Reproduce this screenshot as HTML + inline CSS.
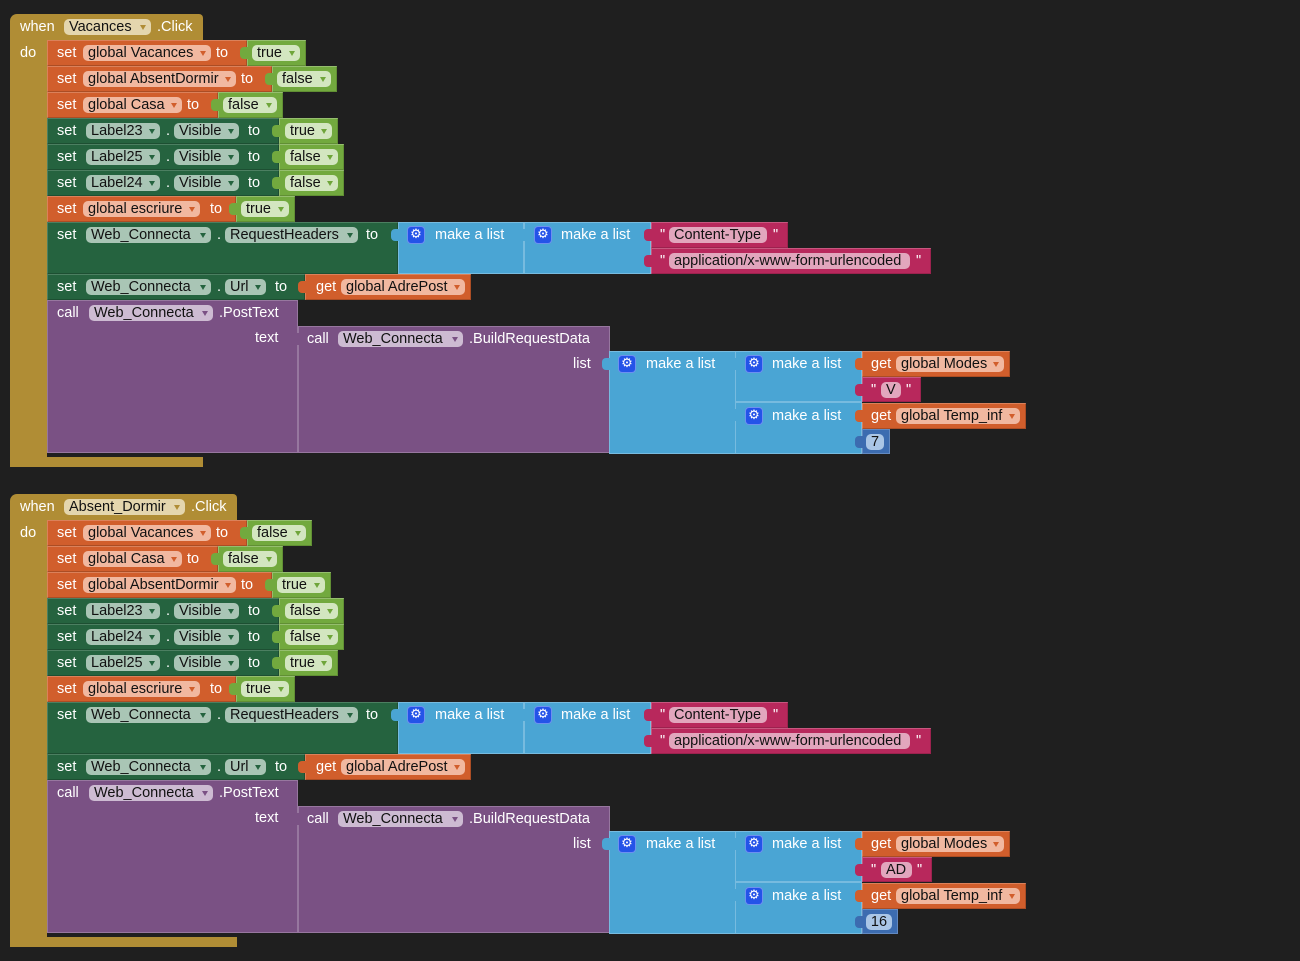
<!DOCTYPE html>
<html><head><meta charset="utf-8">
<style>
html,body{margin:0;padding:0;background:#1f1f1f;}
body{width:1300px;height:961px;position:relative;overflow:hidden;font-family:"Liberation Sans",Arial,sans-serif;font-size:14.5px;}
.grp{position:absolute;left:0;width:1300px;height:480px;}
.x{position:absolute;box-sizing:border-box;}
.g{background:#b08d35;}
.o{background:#d15e2c;box-shadow:inset 1px 1px 0 rgba(255,255,255,.22),inset -1px -1px 0 rgba(0,0,0,.18);}
.d{background:#25633f;box-shadow:inset 1px 1px 0 rgba(255,255,255,.18),inset -1px -1px 0 rgba(0,0,0,.2);}
.l{background:#72a93e;box-shadow:inset 1px 1px 0 rgba(255,255,255,.25),inset -1px -1px 0 rgba(0,0,0,.15);}
.p{background:#7a5184;box-shadow:inset 0 0 0 1px rgba(255,255,255,.22);}
.u{background:#4aa5d4;box-shadow:inset 0 0 0 1px rgba(255,255,255,.25);}
.k{background:#b8285c;box-shadow:inset 1px 1px 0 rgba(255,255,255,.22),inset -1px -1px 0 rgba(0,0,0,.15);}
.m{background:#3c6cb0;box-shadow:inset 0 0 0 1px rgba(255,255,255,.2);}
.v::before{content:"";position:absolute;left:-7px;top:7px;width:8px;height:12px;background:inherit;border-radius:4px 0 0 4px;}
.t{position:absolute;top:5px;color:#fff;line-height:16px;white-space:nowrap;}
.f{position:absolute;top:5px;height:16px;border-radius:5px;color:#111;line-height:16px;padding-left:5px;box-sizing:border-box;white-space:nowrap;}
.f b{position:absolute;right:5px;top:6px;width:0;height:0;border-left:3.5px solid transparent;border-right:3.5px solid transparent;border-top:5px solid #000;}
.fo{background:#f1b8a0;} .fo b{border-top-color:#d15e2c;}
.fd{background:#a9c5b5;} .fd b{border-top-color:#25633f;}
.fl{background:#d3e6c0;} .fl b{border-top-color:#6fa53a;}
.fg{background:#e4d6ae;} .fg b{border-top-color:#b08d35;}
.fp{background:#cdbbd2;} .fp b{border-top-color:#7a5184;}
.fk{background:#e2a6bd;}
.fm{background:#aac6e6;text-align:center;padding-left:0;}
.ic{position:absolute;top:5px;width:16px;height:16px;background:#2453e8;border-radius:3px;color:#fff;font:13px/16px "DejaVu Sans",sans-serif;text-align:center;box-shadow:0 0 0 1px #6d90f0;}
</style></head><body>

<!-- ================= BLOCK 1 ================= -->
<div class="grp" style="top:0">
<div class="x g" style="left:10px;top:14px;width:193px;height:26px;border-radius:7px 4px 0 0">
  <span class="t" style="left:10px">when</span>
  <div class="f fg" style="left:54px;width:87px">Vacances<b></b></div>
  <span class="t" style="left:147px">.Click</span>
</div>
<div class="x g" style="left:10px;top:40px;width:37px;height:427px"><span class="t" style="left:10px">do</span></div>
<div class="x g" style="left:10px;top:457px;width:193px;height:10px"></div>

<!-- R1 -->
<div class="x o" style="left:47px;top:40px;width:200px;height:26px">
  <span class="t" style="left:10px">set</span>
  <div class="f fo" style="left:36px;width:128px">global Vacances<b></b></div>
  <span class="t" style="left:169px">to</span>
</div>
<div class="x l v" style="left:247px;top:40px;width:59px;height:26px"><div class="f fl" style="left:5px;width:48px">true<b></b></div></div>
<!-- R2 -->
<div class="x o" style="left:47px;top:66px;width:225px;height:26px">
  <span class="t" style="left:10px">set</span>
  <div class="f fo" style="left:36px;width:153px">global AbsentDormir<b></b></div>
  <span class="t" style="left:194px">to</span>
</div>
<div class="x l v" style="left:272px;top:66px;width:65px;height:26px"><div class="f fl" style="left:5px;width:54px">false<b></b></div></div>
<!-- R3 -->
<div class="x o" style="left:47px;top:92px;width:171px;height:26px">
  <span class="t" style="left:10px">set</span>
  <div class="f fo" style="left:36px;width:99px">global Casa<b></b></div>
  <span class="t" style="left:140px">to</span>
</div>
<div class="x l v" style="left:218px;top:92px;width:65px;height:26px"><div class="f fl" style="left:5px;width:54px">false<b></b></div></div>
<!-- R4 -->
<div class="x d" style="left:47px;top:118px;width:232px;height:26px">
  <span class="t" style="left:10px">set</span>
  <div class="f fd" style="left:39px;width:74px">Label23<b></b></div>
  <span class="t" style="left:119px">.</span>
  <div class="f fd" style="left:127px;width:65px">Visible<b></b></div>
  <span class="t" style="left:201px">to</span>
</div>
<div class="x l v" style="left:279px;top:118px;width:59px;height:26px"><div class="f fl" style="left:6px;width:47px">true<b></b></div></div>
<!-- R5 -->
<div class="x d" style="left:47px;top:144px;width:232px;height:26px">
  <span class="t" style="left:10px">set</span>
  <div class="f fd" style="left:39px;width:74px">Label25<b></b></div>
  <span class="t" style="left:119px">.</span>
  <div class="f fd" style="left:127px;width:65px">Visible<b></b></div>
  <span class="t" style="left:201px">to</span>
</div>
<div class="x l v" style="left:279px;top:144px;width:65px;height:26px"><div class="f fl" style="left:6px;width:53px">false<b></b></div></div>
<!-- R6 -->
<div class="x d" style="left:47px;top:170px;width:232px;height:26px">
  <span class="t" style="left:10px">set</span>
  <div class="f fd" style="left:39px;width:74px">Label24<b></b></div>
  <span class="t" style="left:119px">.</span>
  <div class="f fd" style="left:127px;width:65px">Visible<b></b></div>
  <span class="t" style="left:201px">to</span>
</div>
<div class="x l v" style="left:279px;top:170px;width:65px;height:26px"><div class="f fl" style="left:6px;width:53px">false<b></b></div></div>
<!-- R7 -->
<div class="x o" style="left:47px;top:196px;width:189px;height:26px">
  <span class="t" style="left:10px">set</span>
  <div class="f fo" style="left:36px;width:117px">global escriure<b></b></div>
  <span class="t" style="left:163px">to</span>
</div>
<div class="x l v" style="left:236px;top:196px;width:59px;height:26px"><div class="f fl" style="left:5px;width:48px">true<b></b></div></div>
<!-- R8 -->
<div class="x d" style="left:47px;top:222px;width:351px;height:52px">
  <span class="t" style="left:10px">set</span>
  <div class="f fd" style="left:39px;width:125px">Web_Connecta<b></b></div>
  <span class="t" style="left:170px">.</span>
  <div class="f fd" style="left:178px;width:133px">RequestHeaders<b></b></div>
  <span class="t" style="left:319px">to</span>
</div>
<div class="x u v" style="left:398px;top:222px;width:126px;height:52px"><div class="ic" style="left:10px">⚙</div><span class="t" style="left:37px">make a list</span></div>
<div class="x u v" style="left:524px;top:222px;width:127px;height:52px"><div class="ic" style="left:11px">⚙</div><span class="t" style="left:37px">make a list</span></div>
<div class="x k v" style="left:651px;top:222px;width:137px;height:26px"><span class="t" style="left:9px">"</span><div class="f fk" style="left:18px;width:98px">Content-Type</div><span class="t" style="left:122px">"</span></div>
<div class="x k v" style="left:651px;top:248px;width:280px;height:26px"><span class="t" style="left:9px">"</span><div class="f fk" style="left:18px;width:241px">application/x-www-form-urlencoded</div><span class="t" style="left:265px">"</span></div>
<!-- R9 -->
<div class="x d" style="left:47px;top:274px;width:258px;height:26px">
  <span class="t" style="left:10px">set</span>
  <div class="f fd" style="left:39px;width:125px">Web_Connecta<b></b></div>
  <span class="t" style="left:170px">.</span>
  <div class="f fd" style="left:178px;width:41px">Url<b></b></div>
  <span class="t" style="left:228px">to</span>
</div>
<div class="x o v" style="left:305px;top:274px;width:166px;height:26px"><span class="t" style="left:11px">get</span><div class="f fo" style="left:36px;width:124px">global AdrePost<b></b></div></div>
<!-- R10 -->
<div class="x p" style="left:47px;top:300px;width:251px;height:153px">
  <span class="t" style="left:10px">call</span>
  <div class="f fp" style="left:42px;width:124px">Web_Connecta<b></b></div>
  <span class="t" style="left:172px">.PostText</span>
  <span class="t" style="left:208px;top:30px">text</span>
</div>
<div class="x p v" style="left:298px;top:326px;width:312px;height:127px">
  <span class="t" style="left:9px">call</span>
  <div class="f fp" style="left:40px;width:125px">Web_Connecta<b></b></div>
  <span class="t" style="left:171px">.BuildRequestData</span>
  <span class="t" style="left:275px;top:30px">list</span>
</div>
<div class="x u v" style="left:609px;top:351px;width:127px;height:103px"><div class="ic" style="left:10px">⚙</div><span class="t" style="left:37px">make a list</span></div>
<div class="x u v" style="left:735px;top:351px;width:127px;height:51px"><div class="ic" style="left:11px">⚙</div><span class="t" style="left:37px">make a list</span></div>
<div class="x u v" style="left:735px;top:402px;width:127px;height:52px"><div class="ic" style="left:11px;top:6px">⚙</div><span class="t" style="left:37px;top:6px">make a list</span></div>
<div class="x o v" style="left:862px;top:351px;width:148px;height:26px"><span class="t" style="left:9px">get</span><div class="f fo" style="left:34px;width:108px">global Modes<b></b></div></div>
<div class="x k v" style="left:862px;top:377px;width:59px;height:25px"><span class="t" style="left:9px">"</span><div class="f fk" style="left:19px;width:20px">V</div><span class="t" style="left:44px">"</span></div>
<div class="x o v" style="left:862px;top:403px;width:164px;height:26px"><span class="t" style="left:9px">get</span><div class="f fo" style="left:34px;width:124px">global Temp_inf<b></b></div></div>
<div class="x m v" style="left:862px;top:429px;width:28px;height:25px"><div class="f fm" style="left:4px;width:18px">7</div></div>
</div>

<!-- ================= BLOCK 2 ================= -->
<div class="grp" style="top:480px">
<div class="x g" style="left:10px;top:14px;width:227px;height:26px;border-radius:7px 4px 0 0">
  <span class="t" style="left:10px">when</span>
  <div class="f fg" style="left:54px;width:121px">Absent_Dormir<b></b></div>
  <span class="t" style="left:181px">.Click</span>
</div>
<div class="x g" style="left:10px;top:40px;width:37px;height:427px"><span class="t" style="left:10px">do</span></div>
<div class="x g" style="left:10px;top:457px;width:227px;height:10px"></div>

<!-- R1 -->
<div class="x o" style="left:47px;top:40px;width:200px;height:26px">
  <span class="t" style="left:10px">set</span>
  <div class="f fo" style="left:36px;width:128px">global Vacances<b></b></div>
  <span class="t" style="left:169px">to</span>
</div>
<div class="x l v" style="left:247px;top:40px;width:65px;height:26px"><div class="f fl" style="left:5px;width:54px">false<b></b></div></div>
<!-- R2 -->
<div class="x o" style="left:47px;top:66px;width:171px;height:26px">
  <span class="t" style="left:10px">set</span>
  <div class="f fo" style="left:36px;width:99px">global Casa<b></b></div>
  <span class="t" style="left:140px">to</span>
</div>
<div class="x l v" style="left:218px;top:66px;width:65px;height:26px"><div class="f fl" style="left:5px;width:54px">false<b></b></div></div>
<!-- R3 -->
<div class="x o" style="left:47px;top:92px;width:225px;height:26px">
  <span class="t" style="left:10px">set</span>
  <div class="f fo" style="left:36px;width:153px">global AbsentDormir<b></b></div>
  <span class="t" style="left:194px">to</span>
</div>
<div class="x l v" style="left:272px;top:92px;width:59px;height:26px"><div class="f fl" style="left:5px;width:48px">true<b></b></div></div>
<!-- R4 -->
<div class="x d" style="left:47px;top:118px;width:232px;height:26px">
  <span class="t" style="left:10px">set</span>
  <div class="f fd" style="left:39px;width:74px">Label23<b></b></div>
  <span class="t" style="left:119px">.</span>
  <div class="f fd" style="left:127px;width:65px">Visible<b></b></div>
  <span class="t" style="left:201px">to</span>
</div>
<div class="x l v" style="left:279px;top:118px;width:65px;height:26px"><div class="f fl" style="left:6px;width:53px">false<b></b></div></div>
<!-- R5 -->
<div class="x d" style="left:47px;top:144px;width:232px;height:26px">
  <span class="t" style="left:10px">set</span>
  <div class="f fd" style="left:39px;width:74px">Label24<b></b></div>
  <span class="t" style="left:119px">.</span>
  <div class="f fd" style="left:127px;width:65px">Visible<b></b></div>
  <span class="t" style="left:201px">to</span>
</div>
<div class="x l v" style="left:279px;top:144px;width:65px;height:26px"><div class="f fl" style="left:6px;width:53px">false<b></b></div></div>
<!-- R6 -->
<div class="x d" style="left:47px;top:170px;width:232px;height:26px">
  <span class="t" style="left:10px">set</span>
  <div class="f fd" style="left:39px;width:74px">Label25<b></b></div>
  <span class="t" style="left:119px">.</span>
  <div class="f fd" style="left:127px;width:65px">Visible<b></b></div>
  <span class="t" style="left:201px">to</span>
</div>
<div class="x l v" style="left:279px;top:170px;width:59px;height:26px"><div class="f fl" style="left:6px;width:47px">true<b></b></div></div>
<!-- R7 -->
<div class="x o" style="left:47px;top:196px;width:189px;height:26px">
  <span class="t" style="left:10px">set</span>
  <div class="f fo" style="left:36px;width:117px">global escriure<b></b></div>
  <span class="t" style="left:163px">to</span>
</div>
<div class="x l v" style="left:236px;top:196px;width:59px;height:26px"><div class="f fl" style="left:5px;width:48px">true<b></b></div></div>
<!-- R8 -->
<div class="x d" style="left:47px;top:222px;width:351px;height:52px">
  <span class="t" style="left:10px">set</span>
  <div class="f fd" style="left:39px;width:125px">Web_Connecta<b></b></div>
  <span class="t" style="left:170px">.</span>
  <div class="f fd" style="left:178px;width:133px">RequestHeaders<b></b></div>
  <span class="t" style="left:319px">to</span>
</div>
<div class="x u v" style="left:398px;top:222px;width:126px;height:52px"><div class="ic" style="left:10px">⚙</div><span class="t" style="left:37px">make a list</span></div>
<div class="x u v" style="left:524px;top:222px;width:127px;height:52px"><div class="ic" style="left:11px">⚙</div><span class="t" style="left:37px">make a list</span></div>
<div class="x k v" style="left:651px;top:222px;width:137px;height:26px"><span class="t" style="left:9px">"</span><div class="f fk" style="left:18px;width:98px">Content-Type</div><span class="t" style="left:122px">"</span></div>
<div class="x k v" style="left:651px;top:248px;width:280px;height:26px"><span class="t" style="left:9px">"</span><div class="f fk" style="left:18px;width:241px">application/x-www-form-urlencoded</div><span class="t" style="left:265px">"</span></div>
<!-- R9 -->
<div class="x d" style="left:47px;top:274px;width:258px;height:26px">
  <span class="t" style="left:10px">set</span>
  <div class="f fd" style="left:39px;width:125px">Web_Connecta<b></b></div>
  <span class="t" style="left:170px">.</span>
  <div class="f fd" style="left:178px;width:41px">Url<b></b></div>
  <span class="t" style="left:228px">to</span>
</div>
<div class="x o v" style="left:305px;top:274px;width:166px;height:26px"><span class="t" style="left:11px">get</span><div class="f fo" style="left:36px;width:124px">global AdrePost<b></b></div></div>
<!-- R10 -->
<div class="x p" style="left:47px;top:300px;width:251px;height:153px">
  <span class="t" style="left:10px">call</span>
  <div class="f fp" style="left:42px;width:124px">Web_Connecta<b></b></div>
  <span class="t" style="left:172px">.PostText</span>
  <span class="t" style="left:208px;top:30px">text</span>
</div>
<div class="x p v" style="left:298px;top:326px;width:312px;height:127px">
  <span class="t" style="left:9px">call</span>
  <div class="f fp" style="left:40px;width:125px">Web_Connecta<b></b></div>
  <span class="t" style="left:171px">.BuildRequestData</span>
  <span class="t" style="left:275px;top:30px">list</span>
</div>
<div class="x u v" style="left:609px;top:351px;width:127px;height:103px"><div class="ic" style="left:10px">⚙</div><span class="t" style="left:37px">make a list</span></div>
<div class="x u v" style="left:735px;top:351px;width:127px;height:51px"><div class="ic" style="left:11px">⚙</div><span class="t" style="left:37px">make a list</span></div>
<div class="x u v" style="left:735px;top:402px;width:127px;height:52px"><div class="ic" style="left:11px;top:6px">⚙</div><span class="t" style="left:37px;top:6px">make a list</span></div>
<div class="x o v" style="left:862px;top:351px;width:148px;height:26px"><span class="t" style="left:9px">get</span><div class="f fo" style="left:34px;width:108px">global Modes<b></b></div></div>
<div class="x k v" style="left:862px;top:377px;width:70px;height:25px"><span class="t" style="left:9px">"</span><div class="f fk" style="left:19px;width:31px">AD</div><span class="t" style="left:55px">"</span></div>
<div class="x o v" style="left:862px;top:403px;width:164px;height:26px"><span class="t" style="left:9px">get</span><div class="f fo" style="left:34px;width:124px">global Temp_inf<b></b></div></div>
<div class="x m v" style="left:862px;top:429px;width:36px;height:25px"><div class="f fm" style="left:4px;width:26px">16</div></div>
</div>

</body></html>
